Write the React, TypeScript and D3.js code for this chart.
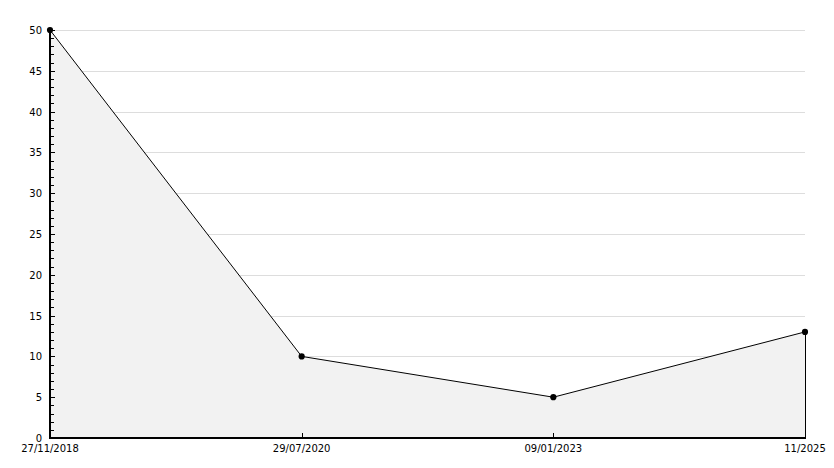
import React from "react";
import * as d3 from "d3";

const categories: string[] = ["27/11/2018", "29/07/2020", "09/01/2023", "11/2025"];
const values: number[] = [50, 10, 5, 13];
const yTicks: number[] = [0, 5, 10, 15, 20, 25, 30, 35, 40, 45, 50];
const yMinorTicks: number[] = d3.range(0, 51, 1);

const W = 834;
const H = 468;
const left = 50;
const right = 805;
const top = 30;
const bottom = 438;

export default function App() {
  const x = d3.scalePoint<string>().domain(categories).range([left, right]);
  const y = d3.scaleLinear().domain([0, 50]).range([bottom, top]);
  const pts: [number, number][] = categories.map((c, i) => [x(c) as number, y(values[i])]);
  const line = d3.line<[number, number]>().x((d) => d[0]).y((d) => d[1]);
  const area = d3
    .area<[number, number]>()
    .x((d) => d[0])
    .y0(y(0))
    .y1((d) => d[1]);
  const font = "'DejaVu Sans', sans-serif";
  return (
    <svg
      width={W}
      height={H}
      style={{ position: "absolute", left: 0, top: 0, background: "#fff" }}
    >
      {yTicks.map((t) => (
        <line
          key={"g" + t}
          x1={left}
          x2={right}
          y1={Math.round(y(t)) + 0.5}
          y2={Math.round(y(t)) + 0.5}
          stroke="#dddddd"
          strokeWidth={1}
        />
      ))}
      <path d={area(pts) || ""} fill="#f2f2f2" stroke="none" />
      <line x1={right + 0.5} x2={right + 0.5} y1={pts[pts.length - 1][1]} y2={bottom} stroke="#000" strokeWidth={1} />
      <path d={line(pts) || ""} fill="none" stroke="#000" strokeWidth={1} />
      {yMinorTicks.map((t) => (
        <line
          key={"m" + t}
          x1={left}
          x2={left + (t % 5 === 0 ? 5 : 4)}
          y1={Math.round(y(t)) + 0.5}
          y2={Math.round(y(t)) + 0.5}
          stroke="#000"
          strokeWidth={1}
        />
      ))}
      {categories.map((c, i) =>
        i > 0 && i < categories.length - 1 ? (
          <line
            key={"xt" + c}
            x1={Math.round(x(c) as number) + 0.5}
            x2={Math.round(x(c) as number) + 0.5}
            y1={bottom}
            y2={bottom - 5}
            stroke="#000"
            strokeWidth={1}
          />
        ) : null
      )}
      <line x1={left} x2={left} y1={top} y2={bottom + 1} stroke="#000" strokeWidth={2} />
      <line x1={left - 1} x2={right + 1} y1={bottom} y2={bottom} stroke="#000" strokeWidth={2} />
      {yTicks.map((t) => (
        <text
          key={"yl" + t}
          x={42}
          y={y(t) + 4}
          textAnchor="end"
          fontFamily={font}
          fontSize={10}
          fill="#000"
        >
          {t}
        </text>
      ))}
      {categories.map((c) => (
        <text
          key={"xl" + c}
          x={x(c) as number}
          y={452}
          textAnchor="middle"
          fontFamily={font}
          fontSize={10}
          fill="#000"
        >
          {c}
        </text>
      ))}
      {pts.map((p, i) => (
        <path
          key={"p" + i}
          transform={`translate(${p[0]},${p[1]})`}
          d={d3.symbol().type(d3.symbolCircle).size(30)() || ""}
          fill="#000"
        />
      ))}
    </svg>
  );
}
